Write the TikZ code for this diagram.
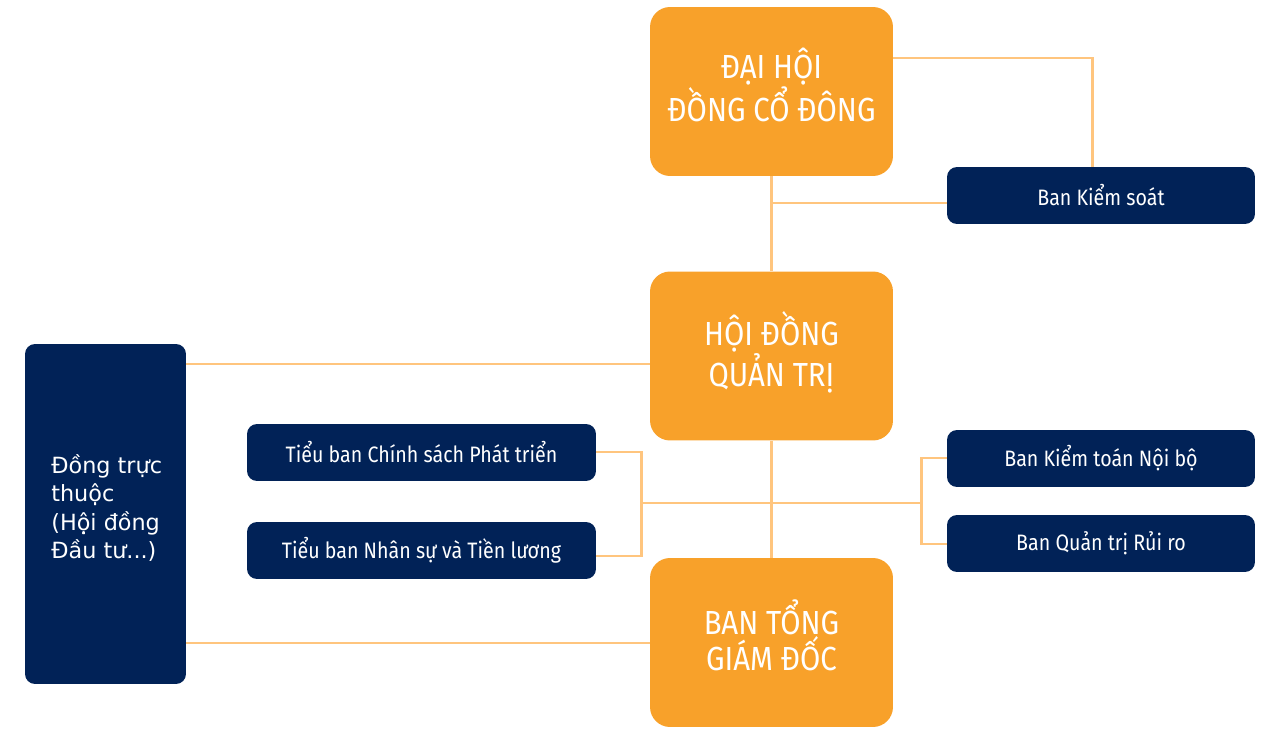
\documentclass[tikz,border=0pt]{standalone}
\usepackage{fontspec}
\newfontfamily\condf{Fira Sans}[FakeStretch=0.88]
\newfontfamily\dejaf{DejaVu Sans}
\definecolor{orangebox}{HTML}{F8A12A}
\definecolor{navybox}{HTML}{012257}
\definecolor{linkcol}{HTML}{FFC57E}
\begin{document}
\begin{tikzpicture}[x=0.02cm,y=-0.02cm,
  bigbox/.style={fill=orangebox,rounded corners=0.4cm,minimum width=4.86cm,minimum height=3.38cm,inner sep=0pt,text=white,align=center,text depth=8pt,font=\condf\fontsize{19}{20.4}\selectfont},
  smallbox/.style={fill=navybox,rounded corners=0.2cm,minimum height=1.14cm,inner sep=0pt,text=white,align=center,font=\condf\fontsize{12.7}{14}\selectfont},
  sidebox/.style={fill=navybox,rounded corners=0.2cm,minimum width=3.22cm,minimum height=6.8cm,inner sep=0pt,text=white},
  link/.style={draw=linkcol,line width=1.7pt}]
\useasboundingbox (0,0) rectangle (1268,729);
\coordinate (y58) at (0,58);
\coordinate (xks) at (1092,0);
\coordinate (ksj) at (771,203);
\coordinate (y364) at (0,364);
\coordinate (y643) at (0,643);
\coordinate (y452) at (0,452);
\coordinate (y556) at (0,556);
\coordinate (y458) at (0,458);
\coordinate (y544) at (0,544);
\coordinate (hl) at (641,503);
\coordinate (hr) at (921,503);
\coordinate (mid) at (771,503);

\node[bigbox] (dhdcd) at (771.5,91.5) {ĐẠI HỘI\\ĐỒNG CỔ ĐÔNG};
\node[bigbox] (hdqt) at (771.5,356) {HỘI ĐỒNG\\QUẢN TRỊ};
\node[bigbox] (btgd) at (771.5,642.5) {BAN TỔNG\\GIÁM ĐỐC};
\node[smallbox,minimum width=6.16cm] (bks) at (1101,195.5) {Ban Kiểm soát};
\node[smallbox,minimum width=6.16cm] (ktnb) at (1101,458.5) {Ban Kiểm toán Nội bộ};
\node[smallbox,minimum width=6.16cm] (qtrr) at (1101,543.5) {Ban Quản trị Rủi ro};
\node[smallbox,minimum width=6.98cm] (csp) at (421.5,452.5) {Tiểu ban Chính sách Phát triển};
\node[smallbox,minimum width=6.98cm] (nstl) at (421.5,550.5) {Tiểu ban Nhân sự và Tiền lương};
\node[sidebox] (dtt) at (105.5,514) {};
\node[anchor=west,align=left,text=white,font=\dejaf\fontsize{12.7}{16.2}\selectfont,inner sep=0pt] (dttxt) at (51,508) {Đồng trực\\thuộc\\(Hội đồng\\Đầu tư...)};

\draw[link] (dhdcd.east |- y58) -| (bks.north -| xks);
\draw[link] (dhdcd.south -| ksj) -- (hdqt.north -| ksj);
\draw[link] (ksj) -- (bks.west |- ksj);
\draw[link] (dtt.east |- y364) -- (hdqt.west |- y364);
\draw[link] (dtt.east |- y643) -- (btgd.west |- y643);
\draw[link] (hdqt.south -| mid) -- (btgd.north -| mid);
\draw[link] (csp.east |- y452) -| (hl) |- (nstl.east |- y556);
\draw[link] (hl) -- (hr);
\draw[link] (ktnb.west |- y458) -| (hr) |- (qtrr.west |- y544);
\end{tikzpicture}
\end{document}
